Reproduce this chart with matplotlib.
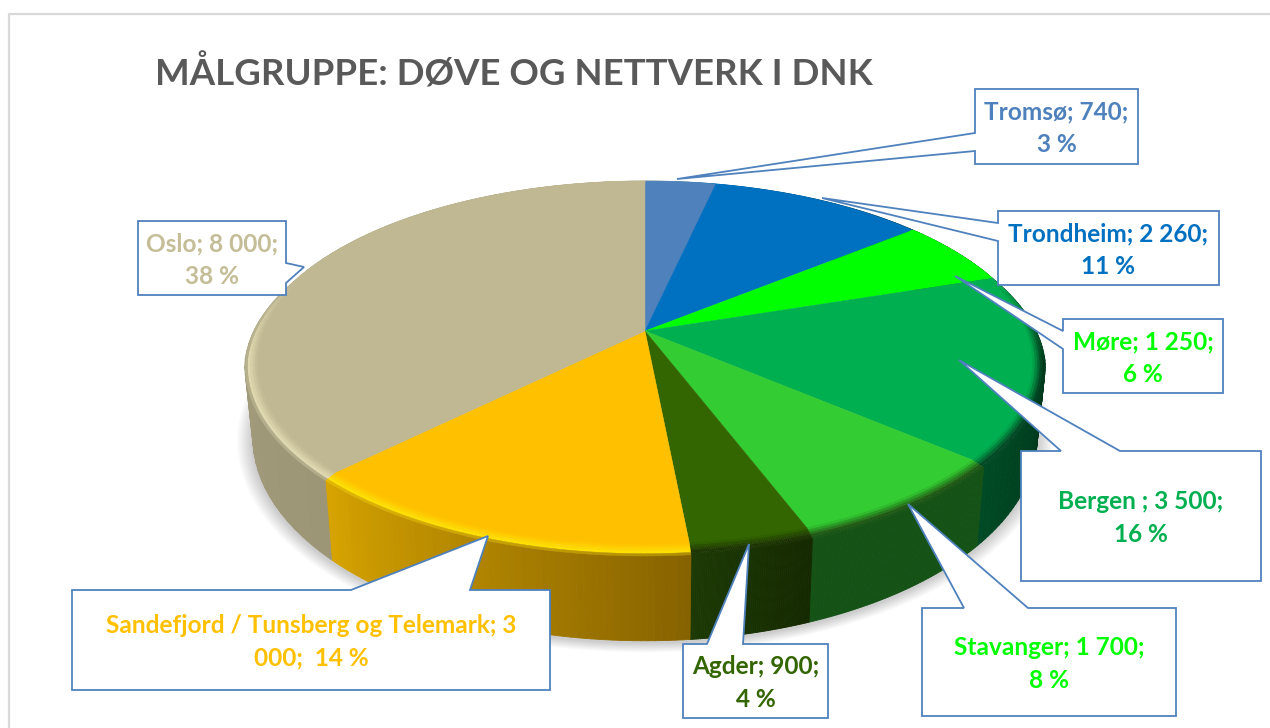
import numpy as np
import matplotlib
matplotlib.use("Agg")
import matplotlib.pyplot as plt
from matplotlib.collections import PolyCollection
from matplotlib.colors import to_rgb

names = ["Tromsø", "Trondheim", "Møre", "Bergen", "Stavanger", "Agder",
         "Sandefjord / Tunsberg og Telemark", "Oslo"]
values = [740, 2260, 1250, 3500, 1700, 900, 3000, 8000]
labels = ["Tromsø; 740;\n3 %", "Trondheim; 2 260;\n11 %", "Møre; 1 250;\n6 %",
          "Bergen ; 3 500;\n16 %", "Stavanger; 1 700;\n8 %", "Agder; 900;\n4 %",
          "Sandefjord / Tunsberg og Telemark; 3\n000;  14 %", "Oslo; 8 000;\n38 %"]
title = "MÅLGRUPPE: DØVE OG NETTVERK I DNK"

face_colors = ["#4f81bd", "#0070c0", "#00ff00", "#00b050", "#33cc33", "#336600", "#ffc000", "#bfb893"]
text_colors = ["#4f81bd", "#0070c0", "#00ff00", "#00b050", "#00ff00", "#336600", "#ffc000", "#c4bd97"]
# side wall colour at start and end of each slice (clockwise)
wall_start = ["#bfb893", "#0070c0", "#002a15", "#001f10", "#155216", "#152900", "#876300", "#9c9576"]
wall_end = ["#0070c0", "#002a15", "#001f10", "#004a25", "#155216", "#1c3a05", "#d6a300", "#b0a987"]
rim_colors = [None, None, "#00ff00", "#004a25", "#1f5a12", "#1b3300", "#ffe000", "#e0d9b0"]

# callouts: box x0, y0, x1, y1, side of the pointer, base start, base end, tip
callouts = [
    (975, 89, 1138, 164, "left", 133, 151, (677, 179)),
    (998, 211, 1219, 285, "left", 223, 241, (822, 198)),
    (1063, 319, 1223, 393, "left", 331, 349, (955, 276)),
    (1021, 451, 1261, 581, "top", 1061, 1120, (959, 360)),
    (922, 608, 1176, 716, "top", 964, 1028, (908, 504)),
    (683, 644, 828, 718, "top", 707, 743, (749, 544)),
    (72, 590, 550, 690, "top", 351, 470, (488, 536)),
    (138, 221, 286, 295, "right", 263, 283, (304, 267)),
]

# perspective pie: where a point of the unit disc lands on the page
cx, cy = 645, 331
a, b, k = 387, 177.4, 0.1826


def top_xy(theta, r=1.0):
    u, v = r * np.sin(theta), r * np.cos(theta)
    d = 1 + k * v
    return cx + a * u / d, cy - b * v / d


def rim_fade(theta):
    # bevel only shows on the front of the pie
    return np.clip((0.3 - np.cos(theta)) / 0.45, 0, 1)


def rim_xy(theta):
    x, y = top_xy(theta)
    v = np.cos(theta)
    return cx + (x - cx) * (1 + 0.0165 * rim_fade(theta)), y + 8 * np.clip(-v, 0, 1)


def bottom_xy(theta, grow=0.0):
    u, v = np.sin(theta), np.cos(theta)
    d = 1 + k * v
    return cx + (392 / 393.5) * a * (1 + grow) * u / d, 401 - 196 * (1 + grow) * v / d


def mix(c1, c2, t):
    c1, c2 = np.array(to_rgb(c1)), np.array(to_rgb(c2))
    return tuple(c1 + (c2 - c1) * t)


fig = plt.figure(figsize=(12.7, 7.28), dpi=100)
ax = fig.add_axes([0, 0, 1, 1])
ax.set_xlim(0, 1270)
ax.set_ylim(728, 0)
ax.axis("off")
plt.rcParams["font.family"] = ["Lato", "DejaVu Sans"]

# chart frame
ax.plot([9, 9, 1270], [728, 14, 14], color="#d9d9d9", lw=1.6, zorder=1)

# soft shadow under the pie
tt = np.linspace(0, 2 * np.pi, 361)
for i in range(10):
    gx, gy = bottom_xy(tt, grow=0.004 * (10 - i))
    ax.fill(gx, gy + 2, color="black", alpha=0.018, lw=0, zorder=2)

edges = np.cumsum([0] + values) / sum(values) * 2 * np.pi

# side wall
for i in range(len(values)):
    th = np.linspace(edges[i], edges[i + 1], 60)
    polys, cols = [], []
    for j in range(len(th) - 1):
        x1, y1 = rim_xy(th[j:j + 2])
        x2, y2 = bottom_xy(th[j:j + 2])
        polys.append([(x1[0], y1[0]), (x1[1], y1[1]), (x2[1], y2[1]), (x2[0], y2[0])])
        cols.append(mix(wall_start[i], wall_end[i], j / (len(th) - 2)))
    ax.add_collection(PolyCollection(polys, facecolors=cols, edgecolors=cols, linewidths=0.6, zorder=3))

# top face
for i in range(len(values)):
    th = np.linspace(edges[i], edges[i + 1], 120)
    x, y = top_xy(th)
    ax.fill(np.r_[cx, x], np.r_[cy, y], color=face_colors[i], lw=0.3, zorder=4)

# bevel round the front of the pie
for i in range(len(values)):
    if rim_colors[i] is None:
        continue
    th = np.linspace(edges[i], edges[i + 1], 60)
    x0, y0 = top_xy(th, 0.985)
    x1, y1 = rim_xy(th)
    fade = rim_fade(th)
    steps = [0.0, 0.2, 0.4, 0.6, 0.8, 1.0]
    polys, cols = [], []
    for s0, s1 in zip(steps[:-1], steps[1:]):
        m = (s0 + s1) / 2
        for j in range(len(th) - 1):
            xa, ya = x0[j:j + 2] + (x1[j:j + 2] - x0[j:j + 2]) * s0, y0[j:j + 2] + (y1[j:j + 2] - y0[j:j + 2]) * s0
            xb, yb = x0[j:j + 2] + (x1[j:j + 2] - x0[j:j + 2]) * s1, y0[j:j + 2] + (y1[j:j + 2] - y0[j:j + 2]) * s1
            polys.append([(xa[0], ya[0]), (xa[1], ya[1]), (xb[1], yb[1]), (xb[0], yb[0])])
            wall = mix(wall_start[i], wall_end[i], j / (len(th) - 2))
            if m < 0.7:
                c = mix(face_colors[i], rim_colors[i], m / 0.7)
            else:
                c = mix(rim_colors[i], wall, (m - 0.7) / 0.3)
            # fade back to the plain face colour towards the rear
            cols.append(mix(face_colors[i], c, fade[j]))
    ax.add_collection(PolyCollection(polys, facecolors=cols, edgecolors=cols, linewidths=0.3, zorder=5))

# data label callouts
for (x0, y0, x1, y1, side, s0, s1, tip), lab, col in zip(callouts, labels, text_colors):
    if side == "left":
        pts = [(x0, y0), (x1, y0), (x1, y1), (x0, y1), (x0, s1), tip, (x0, s0)]
    elif side == "right":
        pts = [(x0, y0), (x1, y0), (x1, s0), tip, (x1, s1), (x1, y1), (x0, y1)]
    else:
        pts = [(x0, y0), (s0, y0), tip, (s1, y0), (x1, y0), (x1, y1), (x0, y1)]
    ax.add_patch(plt.Polygon(pts, closed=True, fc="white", ec="#4f81bd", lw=1.3, joinstyle="miter", zorder=6))
    ax.text((x0 + x1) / 2, (y0 + y1) / 2 + 2, lab, color=col, fontsize=17.6, fontweight="bold",
            ha="center", va="center", linespacing=1.5, zorder=7)

ax.text(155, 73, title, color="#595959", fontsize=26.4, fontweight="bold", ha="left", va="center", zorder=7)

fig.savefig("out.png", dpi=100)
